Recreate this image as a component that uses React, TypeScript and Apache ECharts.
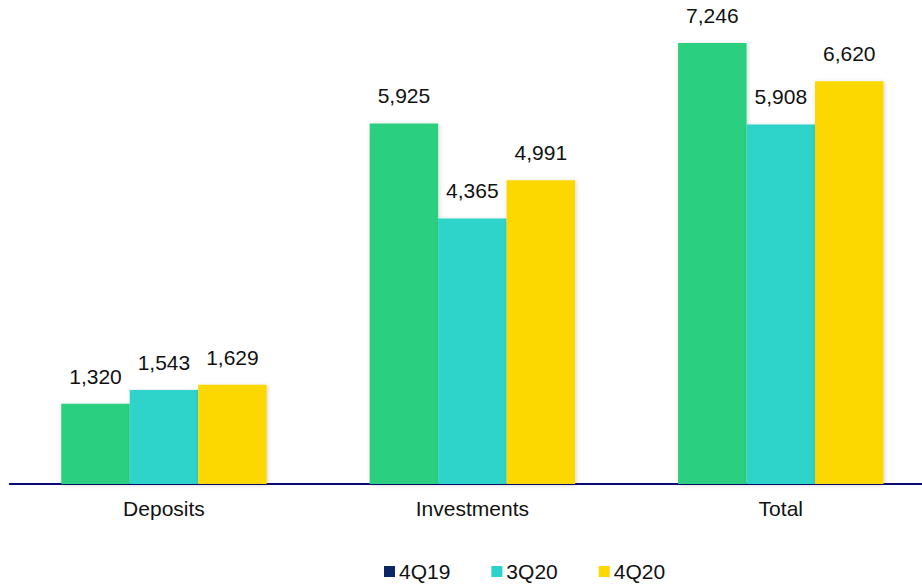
import React, { useEffect, useRef } from "react";
import * as echarts from "echarts";

const categories = ["Deposits", "Investments", "Total"];
const seriesNames = ["4Q19", "3Q20", "4Q20"];
const values4Q19 = [1320, 5925, 7246];
const values3Q20 = [1543, 4365, 5908];
const values4Q20 = [1629, 4991, 6620];

const barColors = ["#2AD07F", "#2DD3CA", "#FCD800"];
const legendColors = ["#0B2566", "#2DD3CA", "#FCD800"];

export default function App() {
  const ref = useRef<HTMLDivElement>(null);
  useEffect(() => {
    if (!ref.current) return;
    const chart = echarts.init(ref.current, null, { renderer: "svg" });
    const font = "Liberation Sans, Arial, sans-serif";
    const dataSets = [values4Q19, values3Q20, values4Q20];
    chart.setOption({
      animation: false,
      backgroundColor: "#ffffff",
      grid: { left: 9.75, right: 1, top: 27.6, bottom: 102, containLabel: false },
      legend: {
        left: 379,
        top: 556,
        itemWidth: 11,
        itemHeight: 11,
        itemGap: 41,
        icon: "rect",
        textStyle: { fontFamily: font, fontSize: 21, color: "#111", padding: [0, 0, 0, -1] },
        data: seriesNames.map((n, i) => ({ name: n, itemStyle: { color: legendColors[i] } })),
      },
      xAxis: {
        type: "category",
        data: categories,
        axisLine: { lineStyle: { color: "#0A0A78", width: 2 } },
        axisTick: { show: false },
        axisLabel: { fontFamily: font, fontSize: 21, color: "#111", margin: 14 },
      },
      yAxis: {
        type: "value",
        min: 0,
        max: 7500,
        show: false,
        splitLine: { show: false },
      },
      series: seriesNames.map((n, i) => ({
        name: n,
        type: "bar",
        data: dataSets[i],
        barGap: "0%",
        barCategoryGap: "33.4%",
        itemStyle: {
          color: barColors[i],
          shadowBlur: 4,
          shadowColor: "rgba(0,0,0,0.18)",
          shadowOffsetX: 1,
          shadowOffsetY: 1,
        },
        label: {
          show: true,
          position: "top",
          distance: 17,
          fontFamily: font,
          fontSize: 21,
          color: "#111",
          formatter: (p: any) => p.value.toLocaleString("en-US"),
        },
      })),
    });
    return () => chart.dispose();
  }, []);
  return (
    <div
      style={{ position: "absolute", left: 0, top: 0, width: 922, height: 586, overflow: "hidden" }}
    >
      <div ref={ref} style={{ width: 936, height: 586 }} />
    </div>
  );
}
